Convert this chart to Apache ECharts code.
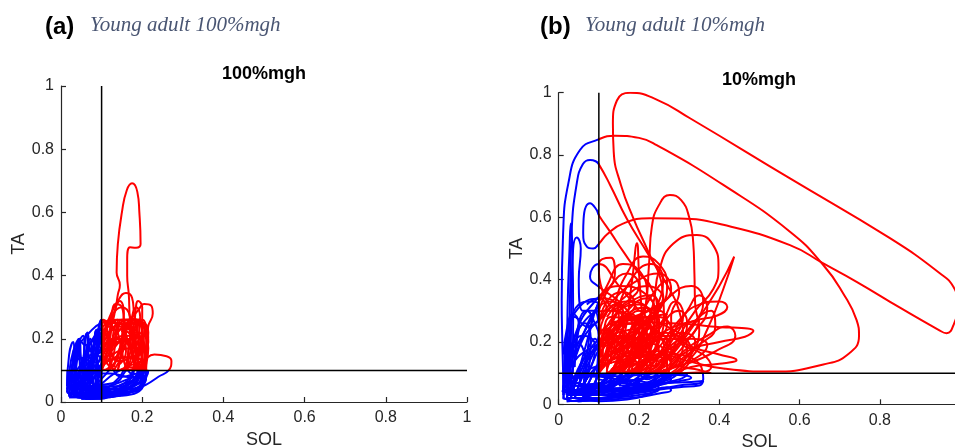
<!DOCTYPE html>
<html>
<head>
<meta charset="utf-8">
<script src="https://cdn.jsdelivr.net/npm/echarts@6/dist/echarts.min.js"></script>
<style>
  html, body { margin: 0; padding: 0; background: #ffffff; }
  #chart { width: 955px; height: 448px; }
</style>
</head>
<body>
<div id="chart"></div>
<script>
// ---- axes and thresholds ----
const axisMin = 0, axisMax = 1, axisStep = 0.2;
const thresholdSOL = 0.1;   // SOL activation threshold (vertical line)
const thresholdTA = 0.1;    // TA activation threshold (horizontal line)

// ---- panel (a): young adult, 100% mgh — SOL/TA trajectories [SOL, TA] ----
const fullSpikes = [
  [[0.035,0.02],[0.038,0.12],[0.043,0.19],[0.047,0.1],[0.05,0.03]],
  [[0.05,0.02],[0.055,0.12],[0.062,0.215],[0.068,0.12],[0.07,0.03]],
  [[0.07,0.03],[0.078,0.15],[0.086,0.228],[0.09,0.12],[0.093,0.03]],
  [[0.025,0.02],[0.028,0.1],[0.032,0.17],[0.037,0.08],[0.04,0.02]],
  [[0.055,0.03],[0.06,0.14],[0.072,0.2],[0.076,0.12],[0.08,0.04]],
  [[0.085,0.05],[0.09,0.18],[0.098,0.255],[0.104,0.2],[0.1,0.1]]
];
const fullCycles = [
  [[0.02,0.02],[0.025,0.1],[0.04,0.17],[0.07,0.22],[0.1,0.25],[0.14,0.26],[0.18,0.26],[0.205,0.24],[0.21,0.18],[0.2,0.11],[0.17,0.06],[0.11,0.02],[0.05,0.015],[0.02,0.02]],
  [[0.03,0.03],[0.035,0.12],[0.04,0.19],[0.05,0.12],[0.07,0.18],[0.1,0.22],[0.13,0.25],[0.16,0.24],[0.18,0.19],[0.19,0.12],[0.17,0.06],[0.12,0.03],[0.03,0.03]],
  [[0.02,0.04],[0.05,0.1],[0.06,0.2],[0.065,0.22],[0.075,0.16],[0.1,0.2],[0.12,0.26],[0.15,0.3],[0.17,0.27],[0.175,0.2],[0.2,0.14],[0.21,0.08],[0.15,0.04],[0.02,0.04]],
  [[0.015,0.03],[0.02,0.09],[0.03,0.16],[0.045,0.2],[0.05,0.13],[0.06,0.08],[0.1,0.12],[0.13,0.17],[0.16,0.2],[0.19,0.18],[0.2,0.12],[0.19,0.07],[0.14,0.03],[0.07,0.02],[0.015,0.03]],
  [[0.04,0.05],[0.08,0.15],[0.085,0.225],[0.092,0.16],[0.11,0.2],[0.14,0.24],[0.17,0.23],[0.2,0.25],[0.215,0.22],[0.21,0.15],[0.19,0.09],[0.15,0.05],[0.04,0.05]],
  [[0.03,0.02],[0.06,0.08],[0.1,0.14],[0.12,0.2],[0.125,0.24],[0.13,0.26],[0.14,0.22],[0.15,0.16],[0.16,0.11],[0.18,0.07],[0.16,0.04],[0.1,0.03],[0.03,0.02]],
  [[0.05,0.05],[0.07,0.12],[0.1,0.16],[0.15,0.2],[0.17,0.25],[0.19,0.26],[0.2,0.21],[0.185,0.15],[0.16,0.1],[0.13,0.06],[0.05,0.05]],
  [[0.02,0.015],[0.04,0.05],[0.07,0.12],[0.09,0.17],[0.1,0.26],[0.11,0.24],[0.12,0.18],[0.14,0.13],[0.17,0.14],[0.195,0.2],[0.21,0.14],[0.205,0.06],[0.15,0.02],[0.02,0.015]],
  [[0.06,0.02],[0.07,0.1],[0.08,0.18],[0.1,0.23],[0.115,0.2],[0.13,0.14],[0.15,0.18],[0.16,0.26],[0.17,0.22],[0.175,0.14],[0.19,0.1],[0.2,0.05],[0.16,0.03],[0.06,0.02]],
  [[0.025,0.04],[0.03,0.12],[0.055,0.21],[0.06,0.14],[0.09,0.1],[0.13,0.12],[0.145,0.17],[0.155,0.23],[0.165,0.19],[0.18,0.12],[0.17,0.07],[0.12,0.04],[0.025,0.04]],
  [[0.04,0.015],[0.1,0.04],[0.16,0.07],[0.2,0.09],[0.215,0.1],[0.21,0.08],[0.18,0.05],[0.14,0.035],[0.1,0.01],[0.04,0.015]],
  [[0.07,0.02],[0.1,0.1],[0.12,0.16],[0.135,0.21],[0.15,0.255],[0.165,0.26],[0.18,0.235],[0.185,0.18],[0.2,0.16],[0.215,0.19],[0.21,0.24],[0.19,0.255],[0.17,0.2],[0.16,0.12],[0.12,0.05],[0.07,0.02]],
  [[0.03,0.06],[0.04,0.14],[0.045,0.2],[0.06,0.18],[0.08,0.2],[0.09,0.23],[0.1,0.18],[0.11,0.13],[0.14,0.1],[0.17,0.11],[0.2,0.1],[0.19,0.06],[0.1,0.04],[0.03,0.06]],
  [[0.015,0.05],[0.02,0.15],[0.03,0.19],[0.035,0.12],[0.045,0.08],[0.06,0.1],[0.065,0.18],[0.07,0.14],[0.09,0.12],[0.1,0.09],[0.08,0.04],[0.015,0.05]],
  [[0.07,0.05],[0.09,0.2],[0.095,0.25],[0.105,0.26],[0.115,0.22],[0.12,0.15],[0.13,0.1],[0.15,0.08],[0.19,0.09],[0.205,0.07],[0.18,0.04],[0.07,0.05]],
  [[0.03,0.03],[0.05,0.12],[0.09,0.22],[0.13,0.25],[0.17,0.24],[0.2,0.17],[0.19,0.09],[0.14,0.04],[0.07,0.02],[0.03,0.03]],
  [[0.04,0.04],[0.06,0.14],[0.1,0.2],[0.14,0.23],[0.18,0.2],[0.21,0.12],[0.2,0.06],[0.13,0.03],[0.04,0.04]],
  [[0.05,0.02],[0.07,0.1],[0.1,0.17],[0.13,0.2],[0.16,0.19],[0.18,0.14],[0.17,0.08],[0.12,0.04],[0.05,0.02]]
];
const fullDenseLoops = [
  [[0.1,0.12],[0.105,0.2],[0.12,0.24],[0.135,0.22],[0.13,0.15],[0.115,0.1]],
  [[0.12,0.1],[0.125,0.18],[0.14,0.25],[0.155,0.23],[0.15,0.16],[0.14,0.1]],
  [[0.14,0.1],[0.15,0.17],[0.165,0.24],[0.18,0.22],[0.175,0.15],[0.16,0.1]],
  [[0.16,0.1],[0.175,0.18],[0.19,0.25],[0.205,0.23],[0.2,0.15],[0.185,0.1]],
  [[0.18,0.1],[0.19,0.16],[0.205,0.21],[0.215,0.17],[0.21,0.12],[0.2,0.1]],
  [[0.1,0.16],[0.13,0.2],[0.17,0.21],[0.2,0.19],[0.19,0.15],[0.15,0.14],[0.11,0.13]],
  [[0.1,0.11],[0.14,0.14],[0.18,0.14],[0.205,0.12],[0.18,0.1]],
  [[0.11,0.2],[0.14,0.245],[0.18,0.25],[0.2,0.23],[0.17,0.2],[0.13,0.19]],
  [[0.12,0.13],[0.13,0.19],[0.15,0.2],[0.16,0.16],[0.145,0.12]],
  [[0.165,0.12],[0.17,0.2],[0.185,0.22],[0.195,0.19],[0.19,0.13]],
  [[0.105,0.17],[0.11,0.23],[0.125,0.255],[0.14,0.26],[0.135,0.2],[0.12,0.16]],
  [[0.15,0.18],[0.16,0.24],[0.175,0.265],[0.19,0.25],[0.185,0.2],[0.17,0.17]],
  [[0.1,0.1],[0.11,0.15],[0.13,0.21],[0.15,0.26],[0.16,0.22],[0.15,0.15],[0.13,0.1]],
  [[0.13,0.11],[0.15,0.19],[0.17,0.25],[0.19,0.26],[0.2,0.2],[0.18,0.13]],
  [[0.1,0.19],[0.12,0.25],[0.16,0.26],[0.2,0.26],[0.21,0.22],[0.17,0.2],[0.12,0.18]],
  [[0.11,0.12],[0.14,0.16],[0.18,0.17],[0.21,0.16],[0.2,0.12],[0.16,0.1]],
  [[0.12,0.22],[0.13,0.28],[0.145,0.32],[0.155,0.28],[0.15,0.22]],
  [[0.17,0.2],[0.175,0.27],[0.185,0.3],[0.195,0.27],[0.19,0.2]],
  [[0.02,0.02],[0.05,0.06],[0.08,0.09],[0.12,0.09],[0.16,0.08],[0.2,0.07],[0.19,0.04],[0.13,0.02],[0.06,0.01]],
  [[0.015,0.04],[0.03,0.1],[0.05,0.14],[0.07,0.13],[0.09,0.1],[0.1,0.06],[0.07,0.03],[0.03,0.02]],
  [[0.03,0.08],[0.05,0.12],[0.08,0.15],[0.1,0.13],[0.085,0.08],[0.05,0.05]],
  [[0.1,0.02],[0.14,0.05],[0.18,0.07],[0.21,0.085],[0.2,0.05],[0.16,0.03],[0.12,0.015]]
];
const fullTallLoops = [
  [[0.04,0.02],[0.08,0.12],[0.1,0.2],[0.12,0.27],[0.14,0.32],[0.16,0.345],[0.175,0.33],[0.18,0.28],[0.19,0.2],[0.2,0.13],[0.19,0.07],[0.13,0.03],[0.04,0.02]],
  [[0.05,0.03],[0.09,0.12],[0.12,0.22],[0.135,0.3],[0.14,0.34],[0.145,0.37],[0.137,0.41],[0.14,0.5],[0.15,0.6],[0.162,0.67],[0.175,0.692],[0.188,0.665],[0.193,0.6],[0.196,0.5],[0.185,0.488],[0.17,0.49],[0.163,0.45],[0.163,0.4],[0.167,0.34],[0.17,0.26],[0.18,0.18],[0.19,0.1],[0.17,0.05],[0.1,0.02],[0.05,0.03]],
  [[0.06,0.03],[0.1,0.12],[0.14,0.22],[0.17,0.26],[0.19,0.29],[0.205,0.31],[0.222,0.305],[0.226,0.28],[0.215,0.24],[0.21,0.17],[0.205,0.1],[0.18,0.05],[0.1,0.02],[0.06,0.03]],
  [[0.08,0.03],[0.12,0.08],[0.16,0.11],[0.2,0.13],[0.23,0.15],[0.26,0.145],[0.272,0.13],[0.265,0.1],[0.24,0.08],[0.21,0.055],[0.175,0.035],[0.12,0.015],[0.08,0.03]],
  [[0.08,0.04],[0.11,0.14],[0.12,0.22],[0.125,0.28],[0.135,0.31],[0.15,0.3],[0.155,0.26],[0.16,0.2],[0.18,0.14],[0.19,0.08],[0.14,0.04],[0.08,0.04]],
  [[0.05,0.01],[0.09,0.06],[0.13,0.12],[0.15,0.17],[0.17,0.2],[0.18,0.25],[0.19,0.32],[0.2,0.3],[0.2,0.25],[0.205,0.15],[0.2,0.07],[0.14,0.02],[0.05,0.01]]
];

// ---- panel (b): young adult, 10% mgh — SOL/TA trajectories [SOL, TA] ----
const lowBigLoops = [
  [[0.05,0.04],[0.12,0.07],[0.2,0.12],[0.25,0.2],[0.262,0.3],[0.257,0.383],[0.223,0.49],[0.186,0.597],[0.155,0.704],[0.137,0.811],[0.135,0.9],[0.145,0.975],[0.178,1.0],[0.244,0.978],[0.327,0.918],[0.576,0.725],[0.825,0.533],[0.95,0.42],[0.983,0.377],[0.995,0.32],[0.985,0.26],[0.966,0.228],[0.945,0.24],[0.85,0.31],[0.742,0.393],[0.659,0.452],[0.576,0.511],[0.41,0.576],[0.3,0.596],[0.227,0.597],[0.16,0.58],[0.12,0.545],[0.1,0.515],[0.086,0.5],[0.07,0.506],[0.061,0.549],[0.062,0.595],[0.078,0.645],[0.094,0.625],[0.1,0.607],[0.13,0.55],[0.161,0.49],[0.2,0.42],[0.227,0.383],[0.245,0.3],[0.235,0.2],[0.2,0.12],[0.15,0.07],[0.08,0.03]],
  [[0.012,0.05],[0.009,0.2],[0.0075,0.335],[0.011,0.549],[0.024,0.709],[0.053,0.816],[0.099,0.85],[0.14,0.862],[0.2,0.855],[0.244,0.832],[0.41,0.704],[0.576,0.554],[0.659,0.447],[0.709,0.355],[0.742,0.27],[0.748,0.22],[0.72,0.16],[0.659,0.128],[0.535,0.105],[0.41,0.115],[0.327,0.137],[0.25,0.16],[0.18,0.14],[0.12,0.08],[0.05,0.03],[0.012,0.05]],
  [[0.025,0.05],[0.026,0.2],[0.028,0.335],[0.032,0.549],[0.045,0.709],[0.06,0.77],[0.078,0.784],[0.092,0.78],[0.1,0.77],[0.128,0.704],[0.169,0.597],[0.219,0.49],[0.27,0.383],[0.3,0.3],[0.31,0.2],[0.28,0.12],[0.2,0.06],[0.1,0.03],[0.025,0.05]]
];
const lowMidLoops = [
  [[0.1,0.04],[0.18,0.14],[0.215,0.3],[0.225,0.45],[0.232,0.57],[0.25,0.64],[0.277,0.672],[0.305,0.655],[0.325,0.6],[0.335,0.52],[0.338,0.42],[0.34,0.32],[0.35,0.24],[0.33,0.16],[0.28,0.09],[0.2,0.05],[0.1,0.04]],
  [[0.15,0.06],[0.2,0.18],[0.235,0.32],[0.25,0.43],[0.285,0.515],[0.344,0.543],[0.385,0.51],[0.398,0.44],[0.385,0.37],[0.34,0.3],[0.3,0.22],[0.26,0.12],[0.2,0.06],[0.15,0.06]],
  [[0.18,0.06],[0.26,0.13],[0.34,0.26],[0.4,0.38],[0.437,0.474],[0.41,0.37],[0.37,0.24],[0.33,0.15],[0.26,0.08],[0.18,0.04]],
  [[0.12,0.05],[0.16,0.2],[0.183,0.4],[0.195,0.517],[0.2,0.42],[0.21,0.25],[0.22,0.12],[0.18,0.05]],
  [[0.2,0.1],[0.26,0.2],[0.3,0.27],[0.35,0.32],[0.4,0.33],[0.42,0.312],[0.395,0.285],[0.33,0.265],[0.28,0.22],[0.26,0.14],[0.22,0.08],[0.2,0.1]],
  [[0.1,0.1],[0.18,0.2],[0.28,0.26],[0.38,0.25],[0.485,0.235],[0.464,0.217],[0.4,0.2],[0.32,0.17],[0.26,0.1],[0.2,0.05],[0.1,0.04]],
  [[0.12,0.08],[0.2,0.18],[0.28,0.21],[0.34,0.18],[0.4,0.16],[0.443,0.142],[0.4,0.13],[0.33,0.12],[0.27,0.09],[0.2,0.05],[0.12,0.03]],
  [[0.2,0.3],[0.15,0.38],[0.1,0.45],[0.078,0.41],[0.1,0.377],[0.15,0.33],[0.2,0.25]],
  [[0.08,0.04],[0.12,0.18],[0.14,0.32],[0.17,0.42],[0.21,0.474],[0.25,0.45],[0.27,0.38],[0.25,0.3],[0.2,0.22],[0.15,0.14],[0.1,0.06],[0.08,0.04]],
  [[0.02,0.05],[0.04,0.17],[0.08,0.27],[0.12,0.38],[0.16,0.45],[0.2,0.43],[0.22,0.35],[0.2,0.25],[0.23,0.16],[0.19,0.08],[0.1,0.04],[0.02,0.05]],
  [[0.06,0.05],[0.09,0.15],[0.13,0.25],[0.18,0.4],[0.23,0.45],[0.26,0.4],[0.24,0.3],[0.2,0.2],[0.17,0.12],[0.12,0.06],[0.06,0.05]],
  [[0.04,0.06],[0.07,0.2],[0.1,0.33],[0.14,0.42],[0.13,0.47],[0.1,0.45],[0.11,0.36],[0.17,0.28],[0.27,0.25],[0.32,0.18],[0.28,0.1],[0.18,0.05],[0.04,0.06]],
  [[0.15,0.1],[0.22,0.25],[0.28,0.35],[0.33,0.38],[0.36,0.33],[0.33,0.25],[0.27,0.18],[0.2,0.12],[0.15,0.1]],
  [[0.12,0.12],[0.2,0.28],[0.25,0.38],[0.28,0.4],[0.3,0.36],[0.28,0.28],[0.3,0.2],[0.36,0.16],[0.38,0.12],[0.3,0.1],[0.2,0.1]],
  [[0.25,0.11],[0.3,0.2],[0.35,0.28],[0.38,0.3],[0.39,0.25],[0.34,0.18],[0.3,0.13],[0.35,0.11],[0.38,0.1]]
];
const lowCycles = [
  [[0.02,0.03],[0.03,0.15],[0.06,0.26],[0.12,0.3],[0.2,0.27],[0.26,0.2],[0.27,0.12],[0.22,0.06],[0.12,0.03],[0.02,0.03]],
  [[0.03,0.05],[0.05,0.18],[0.1,0.27],[0.17,0.33],[0.23,0.3],[0.25,0.22],[0.2,0.13],[0.14,0.07],[0.06,0.04],[0.03,0.05]],
  [[0.015,0.06],[0.02,0.2],[0.05,0.31],[0.11,0.34],[0.16,0.3],[0.19,0.22],[0.18,0.13],[0.13,0.06],[0.05,0.03],[0.015,0.06]],
  [[0.04,0.02],[0.07,0.12],[0.12,0.22],[0.18,0.26],[0.24,0.24],[0.28,0.17],[0.27,0.09],[0.2,0.04],[0.1,0.02],[0.04,0.02]],
  [[0.02,0.08],[0.04,0.22],[0.09,0.33],[0.15,0.38],[0.21,0.36],[0.24,0.29],[0.22,0.2],[0.16,0.12],[0.09,0.06],[0.02,0.08]],
  [[0.05,0.03],[0.08,0.1],[0.13,0.16],[0.2,0.2],[0.29,0.22],[0.33,0.17],[0.3,0.1],[0.22,0.06],[0.12,0.03],[0.05,0.03]],
  [[0.03,0.04],[0.06,0.14],[0.11,0.19],[0.15,0.24],[0.16,0.3],[0.13,0.33],[0.1,0.3],[0.11,0.22],[0.16,0.14],[0.14,0.06],[0.07,0.03],[0.03,0.04]],
  [[0.02,0.02],[0.05,0.09],[0.12,0.13],[0.2,0.15],[0.28,0.16],[0.35,0.13],[0.36,0.08],[0.3,0.06],[0.2,0.04],[0.1,0.02],[0.02,0.02]],
  [[0.03,0.03],[0.06,0.12],[0.1,0.2],[0.14,0.26],[0.19,0.28],[0.22,0.24],[0.2,0.18],[0.15,0.15],[0.13,0.1],[0.08,0.05],[0.03,0.03]],
  [[0.05,0.06],[0.08,0.16],[0.12,0.21],[0.17,0.22],[0.21,0.18],[0.23,0.12],[0.19,0.07],[0.12,0.05],[0.05,0.06]],
  [[0.01,0.04],[0.03,0.12],[0.08,0.18],[0.14,0.2],[0.18,0.16],[0.2,0.1],[0.16,0.05],[0.08,0.03],[0.01,0.04]],
  [[0.06,0.02],[0.09,0.11],[0.13,0.19],[0.16,0.27],[0.21,0.31],[0.25,0.27],[0.24,0.18],[0.2,0.11],[0.14,0.06],[0.06,0.02]]
];
const lowDenseLoops = [
  [[0.1,0.12],[0.11,0.22],[0.13,0.28],[0.16,0.27],[0.16,0.18],[0.13,0.11]],
  [[0.12,0.1],[0.13,0.2],[0.16,0.26],[0.19,0.25],[0.18,0.16],[0.15,0.1]],
  [[0.15,0.1],[0.17,0.2],[0.2,0.27],[0.23,0.25],[0.22,0.15],[0.19,0.1]],
  [[0.18,0.1],[0.2,0.17],[0.24,0.23],[0.27,0.2],[0.26,0.13],[0.22,0.1]],
  [[0.1,0.18],[0.14,0.24],[0.2,0.26],[0.24,0.22],[0.2,0.17],[0.14,0.15]],
  [[0.1,0.11],[0.15,0.15],[0.22,0.16],[0.27,0.13],[0.22,0.1]],
  [[0.11,0.22],[0.15,0.3],[0.2,0.32],[0.23,0.28],[0.18,0.23],[0.13,0.2]],
  [[0.13,0.13],[0.14,0.21],[0.18,0.22],[0.19,0.16],[0.16,0.12]],
  [[0.2,0.12],[0.21,0.22],[0.25,0.28],[0.28,0.24],[0.26,0.15],[0.23,0.11]],
  [[0.1,0.14],[0.12,0.19],[0.17,0.2],[0.21,0.18],[0.19,0.13],[0.14,0.12]],
  [[0.1,0.25],[0.12,0.33],[0.16,0.36],[0.19,0.32],[0.15,0.27],[0.12,0.24]],
  [[0.14,0.16],[0.16,0.24],[0.2,0.3],[0.22,0.26],[0.2,0.19],[0.17,0.15]],
  [[0.22,0.16],[0.26,0.26],[0.3,0.3],[0.32,0.26],[0.29,0.18],[0.25,0.14]],
  [[0.1,0.2],[0.11,0.27],[0.14,0.32],[0.15,0.26],[0.13,0.2]],
  [[0.16,0.11],[0.18,0.14],[0.24,0.17],[0.3,0.15],[0.27,0.11],[0.2,0.1]],
  [[0.12,0.28],[0.17,0.35],[0.22,0.38],[0.26,0.34],[0.21,0.29],[0.16,0.27]],
  [[0.24,0.12],[0.27,0.2],[0.31,0.23],[0.34,0.2],[0.31,0.14],[0.27,0.11]],
  [[0.1,0.3],[0.13,0.38],[0.17,0.42],[0.2,0.38],[0.17,0.33],[0.13,0.3]],
  [[0.1,0.1],[0.12,0.16],[0.15,0.22],[0.18,0.29],[0.2,0.25],[0.19,0.17],[0.16,0.11]],
  [[0.11,0.12],[0.14,0.18],[0.19,0.23],[0.25,0.3],[0.27,0.26],[0.23,0.19],[0.17,0.13]],
  [[0.13,0.1],[0.15,0.14],[0.2,0.19],[0.26,0.23],[0.3,0.21],[0.27,0.15],[0.21,0.11]],
  [[0.1,0.15],[0.13,0.23],[0.17,0.3],[0.22,0.34],[0.24,0.3],[0.2,0.24],[0.14,0.17]],
  [[0.17,0.1],[0.19,0.15],[0.22,0.2],[0.26,0.27],[0.29,0.33],[0.31,0.29],[0.28,0.2],[0.23,0.13]],
  [[0.1,0.13],[0.16,0.18],[0.23,0.21],[0.29,0.25],[0.35,0.27],[0.33,0.22],[0.26,0.17],[0.18,0.12]],
  [[0.12,0.2],[0.14,0.28],[0.18,0.33],[0.23,0.35],[0.25,0.31],[0.2,0.25],[0.15,0.2]],
  [[0.2,0.1],[0.24,0.14],[0.28,0.18],[0.33,0.21],[0.37,0.19],[0.33,0.14],[0.26,0.11]],
  [[0.1,0.17],[0.12,0.24],[0.15,0.2],[0.19,0.22],[0.21,0.28],[0.24,0.24],[0.2,0.16],[0.14,0.13]],
  [[0.15,0.13],[0.18,0.2],[0.2,0.26],[0.23,0.2],[0.26,0.18],[0.28,0.12],[0.22,0.1]],
  [[0.1,0.22],[0.13,0.26],[0.17,0.27],[0.22,0.28],[0.27,0.29],[0.24,0.25],[0.18,0.24],[0.12,0.22]],
  [[0.22,0.1],[0.25,0.16],[0.29,0.24],[0.32,0.3],[0.35,0.35],[0.37,0.31],[0.33,0.22],[0.28,0.14]],
  [[0.27,0.12],[0.32,0.18],[0.37,0.22],[0.42,0.25],[0.44,0.22],[0.39,0.17],[0.32,0.13]],
  [[0.1,0.27],[0.14,0.34],[0.2,0.4],[0.25,0.42],[0.28,0.37],[0.22,0.3],[0.15,0.27]],
  [[0.12,0.15],[0.13,0.2],[0.16,0.19],[0.18,0.14],[0.15,0.11]],
  [[0.18,0.17],[0.2,0.23],[0.24,0.21],[0.25,0.16],[0.21,0.14]],
  [[0.1,0.105],[0.11,0.14],[0.13,0.17],[0.15,0.15],[0.14,0.12],[0.12,0.1]],
  [[0.105,0.15],[0.115,0.19],[0.14,0.22],[0.16,0.2],[0.15,0.16],[0.12,0.14]],
  [[0.14,0.105],[0.16,0.13],[0.19,0.15],[0.21,0.13],[0.19,0.11],[0.16,0.1]],
  [[0.1,0.19],[0.12,0.23],[0.15,0.24],[0.17,0.22],[0.15,0.19],[0.12,0.18]],
  [[0.16,0.15],[0.17,0.19],[0.2,0.21],[0.22,0.19],[0.2,0.16],[0.18,0.14]],
  [[0.19,0.1],[0.2,0.13],[0.23,0.15],[0.25,0.13],[0.23,0.11],[0.21,0.1]],
  [[0.12,0.11],[0.13,0.15],[0.14,0.19],[0.12,0.22],[0.11,0.18],[0.11,0.13]],
  [[0.17,0.19],[0.18,0.24],[0.21,0.26],[0.23,0.24],[0.21,0.2],[0.19,0.18]],
  [[0.21,0.15],[0.22,0.19],[0.25,0.21],[0.27,0.18],[0.25,0.15],[0.23,0.14]],
  [[0.13,0.22],[0.15,0.26],[0.18,0.27],[0.2,0.25],[0.18,0.22],[0.15,0.21]],
  [[0.012,0.03],[0.02,0.12],[0.04,0.2],[0.06,0.18],[0.07,0.1],[0.05,0.04]],
  [[0.03,0.02],[0.05,0.1],[0.07,0.17],[0.09,0.21],[0.1,0.15],[0.09,0.06]],
  [[0.015,0.1],[0.03,0.18],[0.06,0.22],[0.09,0.19],[0.08,0.12],[0.05,0.08]],
  [[0.02,0.05],[0.04,0.14],[0.05,0.24],[0.065,0.26],[0.08,0.2],[0.07,0.08]],
  [[0.06,0.04],[0.07,0.15],[0.08,0.25],[0.09,0.3],[0.1,0.24],[0.095,0.1]],
  [[0.012,0.16],[0.02,0.24],[0.035,0.29],[0.05,0.26],[0.04,0.19],[0.025,0.14]],
  [[0.02,0.01],[0.08,0.015],[0.15,0.03],[0.22,0.05],[0.28,0.08],[0.25,0.09],[0.16,0.07],[0.08,0.05],[0.02,0.04]],
  [[0.05,0.06],[0.12,0.07],[0.2,0.08],[0.28,0.095],[0.33,0.085],[0.28,0.07],[0.18,0.05],[0.1,0.04]],
  [[0.015,0.07],[0.04,0.09],[0.1,0.095],[0.16,0.1],[0.22,0.095],[0.2,0.08],[0.12,0.06],[0.05,0.05]],
  [[0.04,0.02],[0.1,0.01],[0.17,0.015],[0.22,0.03],[0.24,0.045],[0.2,0.05],[0.12,0.04],[0.06,0.035]]
];
const lowLeftLoops = [
  [[0.02,0.05],[0.022,0.3],[0.027,0.5],[0.03,0.58],[0.034,0.5],[0.036,0.3],[0.035,0.1]],
  [[0.03,0.1],[0.032,0.35],[0.036,0.5],[0.045,0.535],[0.055,0.5],[0.05,0.4],[0.06,0.3],[0.1,0.3]],
  [[0.02,0.1],[0.03,0.25],[0.05,0.32],[0.08,0.33],[0.1,0.32],[0.08,0.28],[0.06,0.22],[0.04,0.15]],
  [[0.04,0.12],[0.05,0.26],[0.07,0.3],[0.09,0.26],[0.1,0.22],[0.08,0.18],[0.06,0.12]],
  [[0.015,0.15],[0.02,0.22],[0.04,0.28],[0.07,0.25],[0.1,0.27],[0.12,0.3],[0.1,0.34],[0.07,0.32]],
  [[0.012,0.02],[0.014,0.12],[0.018,0.21],[0.025,0.14],[0.03,0.06]]
];
const lowBottomLoops = [
  [[0.1,0.08],[0.2,0.065],[0.3,0.07],[0.36,0.075],[0.35,0.06],[0.3,0.055],[0.2,0.04],[0.1,0.03]],
  [[0.15,0.03],[0.22,0.04],[0.27,0.055],[0.28,0.045],[0.25,0.035],[0.18,0.02],[0.1,0.015]],
  [[0.01,0.02],[0.05,0.01],[0.12,0.02],[0.2,0.03],[0.25,0.05],[0.22,0.07],[0.15,0.08],[0.08,0.09],[0.02,0.08]],
  [[0.01,0.06],[0.06,0.04],[0.14,0.05],[0.22,0.06],[0.3,0.08],[0.32,0.095],[0.25,0.1],[0.15,0.09],[0.05,0.1]]
];

// ---- layout of the two plot boxes (pixels) ----
const boxA = { left: 61, top: 86, width: 406, height: 316 };
const boxB = { left: 558.7, top: 92.7, width: 401.5, height: 311.6 };

const FONT = '"Liberation Sans", Arial, Helvetica, sans-serif';
const AXIS_COLOR = '#262626';
const BLUE = '#0000ff', RED = '#ff0000';
const LINE_W = 2;

// A sub-box of a plot covering data range xr × yr. ECharts widens a series clip
// rect by half the line width, so interior edges are pulled in by that amount
// (with matching axis limits, so the data-to-pixel mapping stays identical).
function regionGrid(b, xr, yr) {
  const sx = b.width / (axisMax - axisMin), sy = b.height / (axisMax - axisMin);
  const e = LINE_W / 2;
  const xlo = xr[0] > axisMin ? xr[0] + e / sx : xr[0];
  const xhi = xr[1] < axisMax ? xr[1] - e / sx : xr[1];
  const ylo = yr[0] > axisMin ? yr[0] + e / sy : yr[0];
  const yhi = yr[1] < axisMax ? yr[1] - e / sy : yr[1];
  return {
    box: { left: b.left + (xlo - axisMin) * sx, top: b.top + (axisMax - yhi) * sy,
           width: (xhi - xlo) * sx, height: (yhi - ylo) * sy },
    x: [xlo, xhi], y: [ylo, yhi]
  };
}

function gridFrom(b) {
  return Object.assign({ containLabel: false, outerBoundsMode: 'none' }, b);
}

function mainAxes(gridIndex) {
  const tickStyle = { color: AXIS_COLOR, width: 1.2 };
  return {
    x: {
      gridIndex, type: 'value', min: axisMin, max: axisMax, interval: axisStep,
      name: 'SOL', nameLocation: 'middle', nameGap: 26,
      nameTextStyle: { fontFamily: FONT, fontSize: 18, color: AXIS_COLOR },
      axisLine: { onZero: false, lineStyle: tickStyle },
      axisTick: { inside: true, length: 5, lineStyle: tickStyle },
      axisLabel: { fontFamily: FONT, fontSize: 16, color: AXIS_COLOR, margin: 8 },
      splitLine: { show: false }
    },
    y: {
      gridIndex, type: 'value', min: axisMin, max: axisMax, interval: axisStep,
      name: 'TA', nameLocation: 'middle', nameGap: 33,
      nameTextStyle: { fontFamily: FONT, fontSize: 18, color: AXIS_COLOR },
      axisLine: { onZero: false, lineStyle: tickStyle },
      axisTick: { inside: true, length: 5, lineStyle: tickStyle },
      axisLabel: { fontFamily: FONT, fontSize: 16, color: AXIS_COLOR, margin: 7 },
      splitLine: { show: false }
    }
  };
}

function hiddenAxis(gridIndex, range) {
  const hidden = { show: false };
  return { gridIndex, type: 'value', min: range[0], max: range[1], show: false,
           axisLine: hidden, axisTick: hidden, axisLabel: hidden, splitLine: hidden };
}

const grids = [], xAxes = [], yAxes = [];
function addMain(b) {
  const ax = mainAxes(grids.length);
  grids.push(gridFrom(b)); xAxes.push(ax.x); yAxes.push(ax.y);
  return grids.length - 1;
}
function addRegion(b, xr, yr) {
  const r = regionGrid(b, xr, yr);
  const idx = grids.length;
  grids.push(gridFrom(r.box)); xAxes.push(hiddenAxis(idx, r.x)); yAxes.push(hiddenAxis(idx, r.y));
  return idx;
}

// Each path: blue where either muscle is below threshold, red where both are above
function trajectorySeries(paths, b) {
  const leftIdx = addRegion(b, [axisMin, thresholdSOL], [axisMin, axisMax]);
  const lowIdx = addRegion(b, [axisMin, axisMax], [axisMin, thresholdTA]);
  const coIdx = addRegion(b, [thresholdSOL, axisMax], [thresholdTA, axisMax]);
  const out = [];
  [[leftIdx, BLUE], [lowIdx, BLUE], [coIdx, RED]].forEach(([idx, color]) => {
    paths.forEach(p => out.push({
      type: 'line', xAxisIndex: idx, yAxisIndex: idx, data: p,
      smooth: 0.5, symbol: 'none', clip: true, silent: true, z: 2,
      lineStyle: { color, width: LINE_W }
    }));
  });
  return out;
}

function thresholdSeries(idx) {
  const style = { type: 'line', xAxisIndex: idx, yAxisIndex: idx, symbol: 'none', silent: true, z: 5,
                  lineStyle: { color: '#000000', width: 1.5 } };
  return [
    Object.assign({}, style, { data: [[thresholdSOL, axisMin], [thresholdSOL, axisMax]] }),
    Object.assign({}, style, { data: [[axisMin, thresholdTA], [axisMax, thresholdTA]] })
  ];
}

const pathsA = [].concat(fullSpikes, fullCycles, fullDenseLoops, fullTallLoops);
const pathsB = [].concat(lowLeftLoops, lowBottomLoops, lowCycles, lowDenseLoops, lowMidLoops, lowBigLoops);

const mainA = addMain(boxA);
const seriesA = trajectorySeries(pathsA, boxA);
const mainB = addMain(boxB);
const seriesB = trajectorySeries(pathsB, boxB);

const option = {
  animation: false,
  backgroundColor: '#ffffff',
  grid: grids,
  xAxis: xAxes,
  yAxis: yAxes,
  series: [].concat(seriesA, thresholdSeries(mainA), seriesB, thresholdSeries(mainB)),
  graphic: [
    { type: 'text', x: 45, y: 27, style: { text: '(a)', font: 'bold 24px ' + FONT, fill: '#000', align: 'left', verticalAlign: 'middle' } },
    { type: 'text', x: 90, y: 25, style: { text: 'Young adult 100%mgh', font: 'italic 21px "Liberation Serif", "Times New Roman", serif', fill: '#4a5673', align: 'left', verticalAlign: 'middle' } },
    { type: 'text', x: 540, y: 27, style: { text: '(b)', font: 'bold 24px ' + FONT, fill: '#000', align: 'left', verticalAlign: 'middle' } },
    { type: 'text', x: 585, y: 25, style: { text: 'Young adult 10%mgh', font: 'italic 21px "Liberation Serif", "Times New Roman", serif', fill: '#4a5673', align: 'left', verticalAlign: 'middle' } },
    { type: 'text', x: 264, y: 74, style: { text: '100%mgh', font: 'bold 18px ' + FONT, fill: '#000', align: 'center', verticalAlign: 'middle' } },
    { type: 'text', x: 759, y: 80, style: { text: '10%mgh', font: 'bold 18px ' + FONT, fill: '#000', align: 'center', verticalAlign: 'middle' } }
  ]
};

const chart = echarts.init(document.getElementById('chart'), null, { renderer: 'canvas' });
chart.setOption(option);
</script>
</body>
</html>
